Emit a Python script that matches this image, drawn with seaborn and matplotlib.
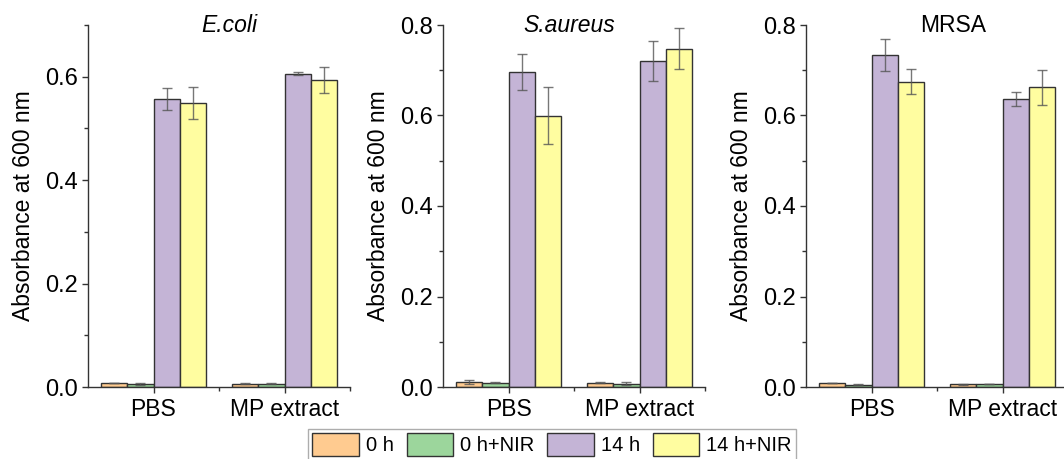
import numpy as np
import pandas as pd
import seaborn as sns
import matplotlib
matplotlib.use('Agg')
from matplotlib import pyplot as plt
from matplotlib.ticker import MultipleLocator, FixedLocator

# data
groups = ['PBS', 'MP extract']
times = ['0 h', '0 h+NIR', '14 h', '14 h+NIR']
colors = ['#FFCB90', '#9CD69C', '#C4B4D6', '#FFFDA0']

ecoli_mean = [[0.0085, 0.0058, 0.557, 0.550],
              [0.0060, 0.0064, 0.606, 0.594]]
ecoli_err = [[0.000, 0.002, 0.021, 0.031],
             [0.001, 0.001, 0.003, 0.025]]
saureus_mean = [[0.011, 0.009, 0.697, 0.600],
                [0.009, 0.0074, 0.720, 0.748]]
saureus_err = [[0.004, 0.001, 0.040, 0.062],
               [0.001, 0.003, 0.044, 0.046]]
mrsa_mean = [[0.009, 0.005, 0.734, 0.675],
             [0.006, 0.0066, 0.636, 0.662]]
mrsa_err = [[0.000, 0.001, 0.035, 0.027],
            [0.001, 0.001, 0.016, 0.038]]

panels = [('E.coli', 'italic', ecoli_mean, ecoli_err, 0.7, 0.54),
          ('S.aureus', 'italic', saureus_mean, saureus_err, 0.8, 0.48),
          ('MRSA', 'normal', mrsa_mean, mrsa_err, 0.8, 0.56)]

sns.set_style('ticks', {'text.color': 'black', 'axes.labelcolor': 'black',
                        'xtick.color': '#333333', 'ytick.color': '#333333'})
plt.rcParams['font.family'] = ['Liberation Sans', 'DejaVu Sans']

fig = plt.figure(figsize=(10.64, 4.59), dpi=100)
lefts = [88, 443, 806]
W, H = 1064., 459.

for (name, style, mean, err, ymax, tx), left in zip(panels, lefts):
    ax = fig.add_axes([left / W, 1 - 387 / H, 262 / W, 362 / H])
    rows = []
    for gi, g in enumerate(groups):
        for ti, t in enumerate(times):
            rows.append({'group': g, 'time': t, 'value': mean[gi][ti],
                         'err': err[gi][ti]})
    df = pd.DataFrame(rows)
    sns.barplot(data=df, x='group', y='value', hue='time', order=groups,
                hue_order=times, palette=colors, saturation=1,
                edgecolor='#333333', linewidth=1, errorbar=None,
                legend=False, ax=ax)
    # error bars at the bar centres
    bar_conts = list(ax.containers)
    for ti, cont in enumerate(bar_conts):
        xs = [p.get_x() + p.get_width() / 2 for p in cont.patches]
        ys = [p.get_height() for p in cont.patches]
        es = [err[gi][ti] for gi in range(len(groups))]
        ax.errorbar(xs, ys, yerr=es, fmt='none', ecolor='#555555', alpha=0.8,
                    elinewidth=1, capsize=3.5, capthick=1)
    ax.set_xlim(-0.5, 1.5)
    ax.set_ylim(0, ymax)
    ax.yaxis.set_major_locator(MultipleLocator(0.2))
    ax.yaxis.set_minor_locator(MultipleLocator(0.1))
    ax.xaxis.set_minor_locator(FixedLocator([0.5, 1.5]))
    ax.set_yticks(np.arange(0, ymax + 0.001, 0.2))
    ax.set_yticklabels(['%.1f' % v for v in np.arange(0, ymax + 0.001, 0.2)])
    ax.tick_params(axis='both', which='major', direction='out', length=4,
                   width=1, color='#333333', labelcolor='black', labelsize=17)
    ax.tick_params(axis='x', labelsize=16.5, pad=4)
    ax.tick_params(axis='both', which='minor', direction='out', length=3,
                   width=1, color='#333333')
    for s in ['top', 'right']:
        ax.spines[s].set_visible(False)
    for s in ['left', 'bottom']:
        ax.spines[s].set_color('#333333')
        ax.spines[s].set_linewidth(1)
    ax.set_xlabel('')
    ax.set_ylabel('Absorbance at 600 nm', fontsize=16.5, labelpad=7,
                  color='black')
    ax.text(tx, 1.0, name, transform=ax.transAxes, ha='center', va='center',
            fontsize=16.5, fontstyle=style, color='black')

handles = [plt.Rectangle((0, 0), 1, 1, facecolor=c, edgecolor='#333333',
                         linewidth=1) for c in colors]
leg = fig.legend(handles, times, loc='upper center', ncol=4,
                 bbox_to_anchor=(552 / W, 1 - 429 / H), fontsize=14.5,
                 frameon=True, fancybox=False, edgecolor='#999999',
                 handlelength=2.3, handleheight=1.35, handletextpad=0.35,
                 columnspacing=0.65, borderpad=0.2, borderaxespad=0)
for t in leg.get_texts():
    t.set_color('black')

fig.savefig('out.png', dpi=100)
